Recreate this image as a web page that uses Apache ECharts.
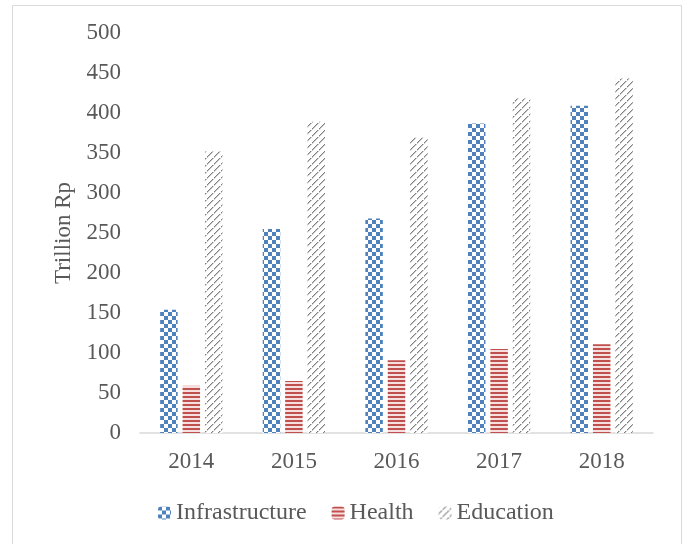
<!DOCTYPE html>
<html>
<head>
<meta charset="utf-8">
<script src="https://cdn.jsdelivr.net/npm/echarts@6/dist/echarts.min.js"></script>
<style>
html,body{margin:0;padding:0;background:#fff;}
#chart{width:687px;height:544px;}
</style>
</head>
<body>
<div id="chart"></div>
<script>
var categories = ['2014', '2015', '2016', '2017', '2018'];
var infrastructure = [154, 255, 268, 387, 409];
var health = [59, 65, 91, 105, 111];
var education = [352, 389, 369, 418, 443];
var yTicks = [0, 50, 100, 150, 200, 250, 300, 350, 400, 450, 500];

function makeCanvas(w, h, draw) {
  var c = document.createElement('canvas');
  c.width = w; c.height = h;
  var ctx = c.getContext('2d');
  draw(ctx);
  return c;
}
var checker = makeCanvas(8, 8, function (ctx) {
  ctx.fillStyle = '#ffffff'; ctx.fillRect(0, 0, 8, 8);
  ctx.fillStyle = '#4F81BD';
  ctx.fillRect(0, 0, 4, 4); ctx.fillRect(4, 4, 4, 4);
});
var hstripes = makeCanvas(4, 4, function (ctx) {
  ctx.fillStyle = '#f6e0df'; ctx.fillRect(0, 0, 4, 4);
  ctx.fillStyle = '#C0504D'; ctx.fillRect(0, 0, 4, 2);
});
var diag = makeCanvas(7, 7, function (ctx) {
  ctx.fillStyle = '#ffffff'; ctx.fillRect(0, 0, 7, 7);
  var i;
  ctx.fillStyle = '#808080';
  for (i = 0; i < 7; i++) { ctx.fillRect(i, 6 - i, 1, 1); }
  ctx.fillStyle = '#c8c8c8';
  for (i = 0; i < 7; i++) { ctx.fillRect((i + 1) % 7, 6 - i, 1, 1); }
  ctx.fillStyle = '#ffffff';
  ctx.fillRect(3, 3, 1, 1);
});

var font = '"Liberation Serif", "Times New Roman", serif';
var chart = echarts.init(document.getElementById('chart'));
chart.setOption({
  backgroundColor: '#ffffff',
  animation: false,
  textStyle: { fontFamily: font },
  graphic: [{
    type: 'rect',
    shape: { x: 12.5, y: 5.5, width: 669, height: 560 },
    style: { fill: 'none', stroke: '#d9d9d9', lineWidth: 1 },
    silent: true
  }],
  grid: { left: 140, right: 34, top: 33, bottom: 111 },
  legend: {
    bottom: 14,
    left: 153,
    itemWidth: 13,
    itemHeight: 13,
    itemGap: 25,
    textStyle: { fontFamily: font, fontSize: 24, color: '#595959' },
    data: ['Infrastructure', 'Health', 'Education']
  },
  xAxis: {
    type: 'category',
    data: categories,
    axisLine: { lineStyle: { color: '#d9d9d9', width: 1.5 } },
    axisTick: { show: false },
    axisLabel: { fontFamily: font, fontSize: 23, color: '#595959', margin: 17 }
  },
  yAxis: {
    type: 'value',
    min: yTicks[0],
    max: yTicks[yTicks.length - 1],
    interval: 50,
    name: 'Trillion Rp',
    nameLocation: 'middle',
    nameRotate: 90,
    nameGap: 64,
    nameTextStyle: { fontFamily: font, fontSize: 23, color: '#595959' },
    axisLine: { show: false },
    axisTick: { show: false },
    splitLine: { show: false },
    axisLabel: { fontFamily: font, fontSize: 23, color: '#595959', margin: 19 }
  },
  series: [
    { name: 'Infrastructure', type: 'bar', data: infrastructure, barWidth: 17.5, barGap: '28%',
      itemStyle: { color: { image: checker, repeat: 'repeat' } } },
    { name: 'Health', type: 'bar', data: health, barWidth: 17.5, barGap: '28%',
      itemStyle: { color: { image: hstripes, repeat: 'repeat' } } },
    { name: 'Education', type: 'bar', data: education, barWidth: 17.5, barGap: '28%',
      itemStyle: { color: { image: diag, repeat: 'repeat' } } }
  ]
});
</script>
</body>
</html>
